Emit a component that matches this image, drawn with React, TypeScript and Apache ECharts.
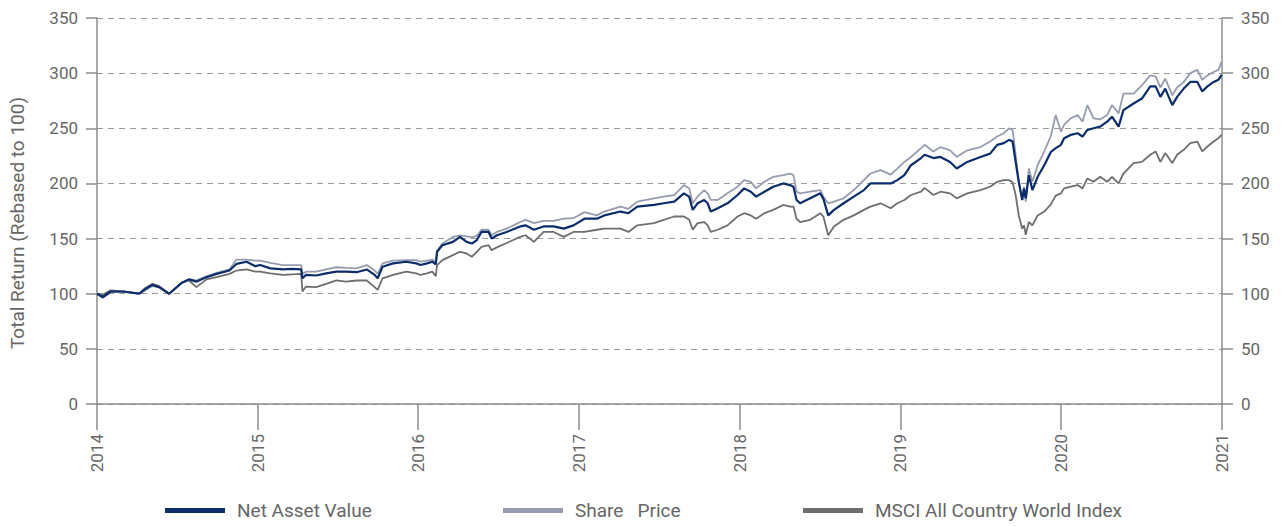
import React, { useEffect, useRef } from "react";
import * as echarts from "echarts";

const dates: string[] = [
  "2014-01-01","2014-01-14","2014-02-01","2014-03-01","2014-04-07","2014-04-20","2014-05-07","2014-05-22","2014-06-14","2014-07-13","2014-07-29","2014-08-15","2014-09-07","2014-09-30","2014-10-29","2014-11-14","2014-12-07","2014-12-27",
  "2015-01-07","2015-01-30","2015-02-28","2015-03-21","2015-04-10","2015-04-13","2015-04-21","2015-05-14","2015-06-06","2015-06-29","2015-07-21","2015-08-14","2015-09-06","2015-09-24","2015-10-01","2015-10-12","2015-11-05","2015-12-05","2015-12-28",
  "2016-01-06","2016-01-21","2016-02-02","2016-02-10","2016-02-13","2016-02-25","2016-03-20","2016-04-05","2016-04-20","2016-05-02","2016-05-13","2016-05-24","2016-06-09","2016-06-16","2016-06-28","2016-07-20","2016-08-20","2016-09-01","2016-09-20","2016-10-12","2016-11-04","2016-11-27","2016-12-19",
  "2017-01-13","2017-02-10","2017-02-27","2017-04-05","2017-04-23","2017-05-13","2017-06-20","2017-07-12","2017-08-05","2017-08-27","2017-09-08","2017-09-16","2017-09-27","2017-10-12","2017-10-20","2017-10-27","2017-11-12","2017-12-04","2017-12-27",
  "2018-01-11","2018-01-26","2018-02-07","2018-02-26","2018-03-18","2018-04-10","2018-04-25","2018-05-03","2018-05-10","2018-05-18","2018-06-10","2018-07-03","2018-07-10","2018-07-21","2018-08-03","2018-08-25","2018-09-17","2018-10-10","2018-10-25","2018-11-17","2018-12-10","2018-12-25",
  "2019-01-10","2019-01-25","2019-02-17","2019-02-25","2019-03-17","2019-04-02","2019-04-24","2019-05-09","2019-06-02","2019-07-02","2019-07-24","2019-08-09","2019-08-24","2019-09-05","2019-09-13","2019-09-20","2019-09-27","2019-10-05","2019-10-09","2019-10-13","2019-10-20","2019-10-28","2019-11-09","2019-11-24","2019-12-09","2019-12-20",
  "2020-01-01","2020-01-08","2020-01-23","2020-02-08","2020-02-19","2020-03-01","2020-03-15","2020-03-30","2020-04-15","2020-04-26","2020-05-11","2020-05-22","2020-06-14","2020-07-03","2020-07-22","2020-08-03","2020-08-14","2020-08-25","2020-09-10","2020-09-21","2020-10-06","2020-10-21","2020-11-06","2020-11-17","2020-11-29","2020-12-13","2020-12-24","2020-12-31"
];

const navValues: number[] = [
  100,97,102,102,100,104,108,106,100,110,113,111,115,118,121,127,129,125,
  126,123,122,122.5,122,114,117,116.5,118.5,120,120,119.5,122,117,114,124.5,127.5,129,127.5,
  126,127.5,129,126.5,138,144,147,151.5,147,145.5,148.5,156,156,150,153,156,161,162,158,161,161,159,162,
  168,168,171,174.5,173,179,180.5,182,183.5,191,188,176,182,185,182,174.5,177.5,182,189.5,
  195.5,192.5,188,192.5,197,200,198.5,197,185,182,186.5,191,186,171,176,182,188,194,200,200,200,203,
  207.5,216.5,223,226,223,224,219.5,213.5,219.5,224,227,235,236.5,239.5,238,219.5,201.5,185,195.5,186.5,207.5,194,206,216.5,228.5,232,
  235,241,244,245.5,242.5,248.5,250,251.5,256,260.5,251.5,266.5,272.5,277,288,288,278.5,286,271,278.5,286,292,292,283.5,288,292,294,298.5
];

const sharePriceValues: number[] = [
  100,96,101,102,100,103,107,106,100,110,113,112,116,119,122,131,131,130,
  130,128,126,126,126,118,120,120,122,124,123.5,123,126,121,118,127.5,130,130.5,130.5,
  129,130,131,129,139,145.5,151.5,153,152,151,152.5,158,158,153,156,159,165,167,164,166,166,168,168.5,
  174,171,174.5,179,177,183.5,186.5,188,189.5,198.5,195.5,182,188,194,191,185,185,191,197,
  203,201.5,195.5,201.5,206,207.5,209,207.5,192.5,191,192.5,194,188,182,183.5,186.5,194,203,209,212,208,213.5,
  219.5,224,232,235,229,233,230,224,230,233,238,242.5,245.5,250,248.5,226,201.5,186.5,197,183.5,213.5,201.5,216.5,229,243,262,
  247,253,259,262,256,271,259,258,262,271,263.5,281.5,281.5,289,298,297,287,295,280,287,292,300,303,294,298,301,303,310
];

const msciValues: number[] = [
  100,99,103,102,100,105,109,107,100,110,112,106,113,115,118,121,122,120,
  120,118.5,117,117.5,118,102,106.5,106,109,112,111,112,112,106,103.5,114,117,120,118.5,
  117,118.5,120,116,126,130.5,135,138,136.5,133.5,138,142.5,144,139.5,142,146,151.5,153,147,156,156,151.5,156,
  156,158,159,159,156,162,164,167,170,170,167,158,164,165,162,156,158,162,170,
  173,171,168,173,176,180.5,179,179,168,165,167,173,170,153,161,167,171,176,179,182,177.5,182,
  185,189.5,192.5,196,189.5,192.5,191,186.5,191,194,197,201.5,203,203,201,189.5,171,159,162,153.5,165,162,171,174.5,181,189,
  191,195.5,197,198.5,195.5,204.5,201.5,206,201.5,206,200,209,218.5,219.5,226,229,219.5,227.5,218.5,226,230.5,236.5,238,229,233.5,238,241,244
];

const seriesNames: string[] = ["Net Asset Value", "Share   Price", "MSCI All Country World Index"];
const seriesColors: string[] = ["#0b2d6b", "#969cb0", "#6e6e6e"];
const yTicks = { min: 0, max: 350, interval: 50 };
const yAxisName = "Total Return (Rebased to 100)";

const FONT = "Roboto";
const TXT = "#666666";
const AXIS = "#8c8c8c";

export default function App() {
  const ref = useRef<HTMLDivElement>(null);
  useEffect(() => {
    if (!ref.current) return;
    const chart = echarts.init(ref.current, undefined, { renderer: "svg" });
    const toPairs = (vals: number[]) => dates.map((d, i) => [d, vals[i]]);
    const allVals = [navValues, sharePriceValues, msciValues];
    const legendLefts = [165, 503, 803];
    const yAxisCommon = {
      type: "value",
      min: yTicks.min,
      max: yTicks.max,
      interval: yTicks.interval,
      axisLine: { show: true, lineStyle: { color: AXIS, width: 1.5 } },
      axisTick: { show: true, length: 11, lineStyle: { color: AXIS, width: 1.5 } },
      axisLabel: { color: TXT, fontSize: 17, fontFamily: FONT, margin: 19 },
    };
    chart.setOption({
      animation: false,
      textStyle: { fontFamily: FONT },
      grid: { left: 97, right: 63, top: 18, bottom: 122 },
      legend: seriesNames.map((n, i) => ({
        data: [n],
        left: legendLefts[i],
        top: 501,
        padding: 0,
        icon: "rect",
        itemWidth: 60,
        itemHeight: 5,
        textStyle: { color: TXT, fontSize: 19, fontFamily: FONT, padding: [0, 0, 0, 7] },
      })),
      xAxis: {
        type: "time",
        min: "2014-01-01",
        max: "2021-01-01",
        minInterval: 365 * 24 * 3600 * 1000,
        axisLine: { show: true, lineStyle: { color: AXIS, width: 1.5 } },
        axisTick: { show: true, length: 26, lineStyle: { color: AXIS, width: 1.5 } },
        axisLabel: {
          rotate: 90,
          color: TXT,
          fontSize: 17,
          fontFamily: FONT,
          margin: 30,
          formatter: "{yyyy}",
          showMinLabel: true,
          showMaxLabel: true,
        },
        splitLine: { show: false },
      },
      yAxis: [
        {
          ...yAxisCommon,
          position: "left",
          name: yAxisName,
          nameLocation: "middle",
          nameRotate: 90,
          nameGap: 70,
          nameTextStyle: { color: TXT, fontSize: 19, fontFamily: FONT, padding: [0, 24, 0, 0] },
          splitLine: { show: true, lineStyle: { color: "#9a9a9a", type: [6, 5], width: 1 } },
        },
        {
          ...yAxisCommon,
          position: "right",
          splitLine: { show: false },
        },
      ],
      series: [2, 1, 0].map((i) => ({
        name: seriesNames[i],
        type: "line",
        data: toPairs(allVals[i]),
        showSymbol: false,
        symbol: "none",
        color: seriesColors[i],
        lineStyle: { color: seriesColors[i], width: i === 0 ? 2.2 : 1.8 },
        z: 10 - i,
      })),
    });
    return () => chart.dispose();
  }, []);
  return <div ref={ref} style={{ width: 1285, height: 526, position: "absolute", left: 0, top: 0 }} />;
}
